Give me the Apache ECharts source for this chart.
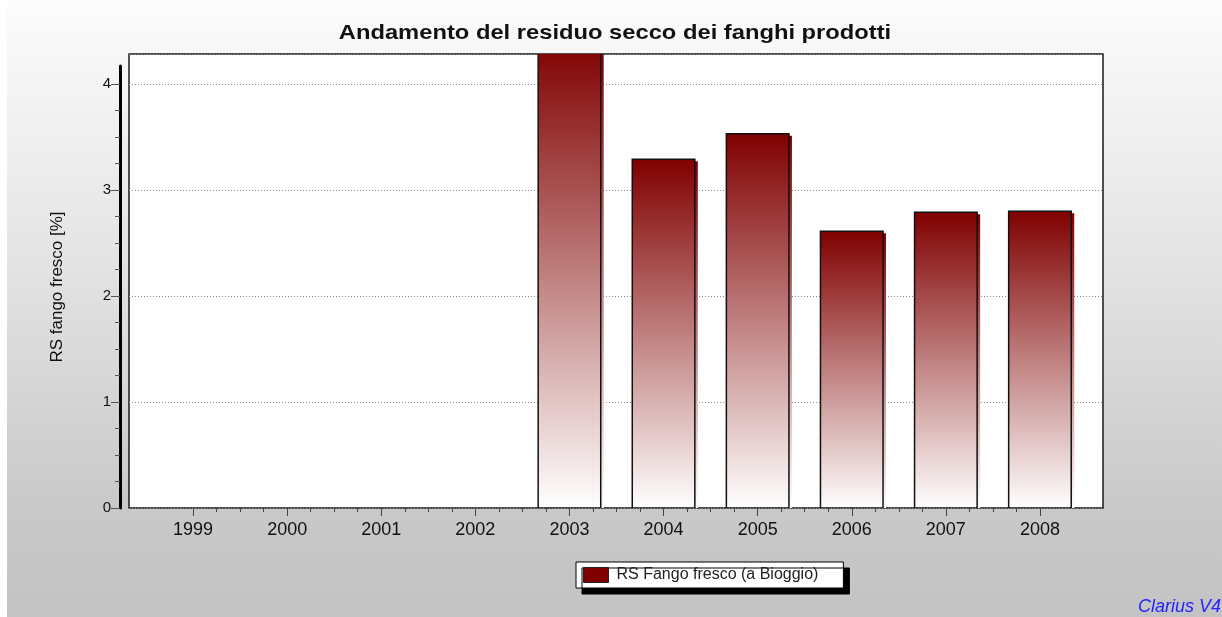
<!DOCTYPE html>
<html>
<head>
<meta charset="utf-8">
<title>Andamento del residuo secco dei fanghi prodotti</title>
<script src="https://cdn.jsdelivr.net/npm/echarts@6/dist/echarts.min.js"></script>
<style>
  html, body { margin: 0; padding: 0; background: #ffffff; }
  #chart { width: 1222px; height: 617px; }
</style>
</head>
<body>
<div id="chart"></div>
<script>
// Anni e residuo secco del fango fresco [%]
const years = ['1999', '2000', '2001', '2002', '2003', '2004', '2005', '2006', '2007', '2008'];
const rsFangoFresco = [null, null, null, null, 4.4, 3.29, 3.53, 2.61, 2.79, 2.80];
const seriesName = 'RS Fango fresco (a Bioggio)';
const chartTitle = 'Andamento del residuo secco dei fanghi prodotti';
const yAxisTitle = 'RS fango fresco [%]';
const yTickValues = [0, 1, 2, 3, 4];
const footerText = 'Clarius V4';

const FONT = '"Liberation Sans", Arial, Helvetica, sans-serif';

// quarter ticks between major ticks
function quarterTicks(majors) {
  const out = [];
  for (let i = 0; i < majors.length - 1; i++) {
    const a = majors[i], b = majors[i + 1];
    for (let k = 1; k < 4; k++) out.push(a + (b - a) * k / 4);
  }
  return out;
}
const yMinorValues = quarterTicks(yTickValues);
const xMajorValues = years.map((_, i) => i);
const xMinorValues = quarterTicks(xMajorValues);

// value range shown inside the plot frame and along the drawn axis line
const Y_MAX_FRAME = 4.283;
const Y_MAX_AXIS = 4.17;

function barGradient() {
  return new echarts.graphic.LinearGradient(0, 0, 0, 1, [
    { offset: 0, color: '#800000' },
    { offset: 1, color: '#ffffff' }
  ]);
}

function renderBar(params, api) {
  const v = api.value(1);
  if (v == null || isNaN(v)) return;
  const idx = api.value(0);
  const top = api.coord([idx, v]);
  const base = api.coord([idx, 0]);
  const w = api.size([1, 0])[0] * 0.665;
  const shape = { x: top[0] - w / 2, y: top[1], width: w, height: base[1] - top[1] };
  return {
    type: 'group',
    children: [
      {
        type: 'rect',
        shape: { x: shape.x + 3, y: shape.y + 2, width: shape.width, height: shape.height },
        style: { fill: barGradient() }
      },
      {
        type: 'rect',
        shape: shape,
        style: { fill: barGradient(), stroke: '#111111', lineWidth: 1.5 }
      }
    ]
  };
}

const chart = echarts.init(document.getElementById('chart'), null, { renderer: 'canvas' });

const hiddenValueAxis = (gridIndex) => ({
  type: 'value', gridIndex: gridIndex, min: 0, max: 1, show: false
});

chart.setOption({
  animation: false,
  textStyle: { fontFamily: FONT },
  graphic: [
    {
      type: 'rect', z: -10, silent: true,
      shape: { x: 7, y: 0, width: 1215, height: 617 },
      style: {
        fill: new echarts.graphic.LinearGradient(0, 0, 0, 1, [
          { offset: 0, color: '#fcfcfc' },
          { offset: 0.4, color: '#e5e5e5' },
          { offset: 0.82, color: '#c9c9c9' },
          { offset: 1, color: '#c3c3c3' }
        ])
      }
    },
    {
      type: 'text', z: 10, x: 615, y: 33, scaleX: 1.13,
      style: {
        text: chartTitle, fill: '#111111',
        font: 'bold 21px ' + FONT, align: 'center', verticalAlign: 'middle'
      }
    },
    {
      type: 'text', z: 10, x: 1138, y: 607,
      style: {
        text: footerText, fill: '#2222ff',
        font: 'italic 18px ' + FONT, align: 'left', verticalAlign: 'middle'
      }
    }
  ],
  grid: [
    // plot frame with dotted grid lines
    { left: 129, right: 119, top: 54, bottom: 109, show: true, backgroundColor: '#ffffff',
      borderColor: '#1a1a1a', borderWidth: 1.5, containLabel: false, outerBoundsMode: 'none' },
    // detached value axis on the left
    { left: 129, right: 119, top: 66, bottom: 109, containLabel: false, outerBoundsMode: 'none' },
    // bars
    { left: 146, right: 135, top: 54, bottom: 109, containLabel: false, outerBoundsMode: 'none' }
  ],
  xAxis: [
    hiddenValueAxis(0),
    hiddenValueAxis(1),
    {
      type: 'category', gridIndex: 2, data: years, position: 'bottom',
      axisLine: { show: false, onZero: false }, axisTick: { show: false }, splitLine: { show: false },
      axisLabel: { fontSize: 18, color: '#111111', margin: 13, fontFamily: FONT }
    },
    {
      type: 'value', gridIndex: 2, min: -0.5, max: 9.5, position: 'bottom',
      axisLine: { show: false, onZero: false }, splitLine: { show: false }, axisLabel: { show: false },
      axisTick: { show: true, length: 8, customValues: xMajorValues,
        lineStyle: { color: '#444444', width: 1 } }
    },
    {
      type: 'value', gridIndex: 2, min: -0.5, max: 9.5, position: 'bottom',
      axisLine: { show: false, onZero: false }, splitLine: { show: false }, axisLabel: { show: false },
      axisTick: { show: true, length: 4, customValues: xMinorValues,
        lineStyle: { color: '#444444', width: 1 } }
    }
  ],
  yAxis: [
    {
      type: 'value', gridIndex: 0, min: 0, max: Y_MAX_FRAME, interval: 1,
      axisLine: { show: false, onZero: false }, axisTick: { show: false }, axisLabel: { show: false },
      splitLine: { show: true, lineStyle: { color: '#8a8a8a', width: 1, type: [1, 2] } }
    },
    {
      type: 'value', gridIndex: 1, min: 0, max: Y_MAX_AXIS, position: 'left', offset: 9,
      name: yAxisTitle, nameLocation: 'middle', nameGap: 54, nameRotate: 90,
      nameTextStyle: { fontSize: 17, color: '#111111', fontFamily: FONT },
      axisLine: { show: true, onZero: false, lineStyle: { color: '#000000', width: 3 } },
      axisTick: { show: true, length: 9, customValues: yTickValues,
        lineStyle: { color: '#555555', width: 1 } },
      axisLabel: { show: true, customValues: yTickValues, margin: 9,
        fontSize: 15, color: '#111111', fontFamily: FONT },
      splitLine: { show: false }
    },
    {
      type: 'value', gridIndex: 1, min: 0, max: Y_MAX_AXIS, position: 'left', offset: 9,
      axisLine: { show: false, onZero: false }, axisLabel: { show: false }, splitLine: { show: false },
      axisTick: { show: true, length: 5, customValues: yMinorValues,
        lineStyle: { color: '#555555', width: 1 } }
    },
    {
      type: 'value', gridIndex: 2, min: 0, max: Y_MAX_FRAME, show: false
    }
  ],
  legend: {
    left: 576, top: 562, orient: 'horizontal',
    padding: [5, 25, 5, 7],
    itemWidth: 25, itemHeight: 15, itemGap: 8,
    backgroundColor: '#ffffff', borderColor: '#000000', borderWidth: 1,
    shadowColor: '#000000', shadowBlur: 0, shadowOffsetX: 6, shadowOffsetY: 6,
    textStyle: { fontSize: 16, color: '#222222', fontFamily: FONT, padding: [0, 0, 0, 3] },
    data: [{
      name: seriesName, icon: 'rect',
      itemStyle: { color: '#800000', borderColor: '#222222', borderWidth: 1 }
    }]
  },
  series: [
    {
      name: seriesName,
      type: 'custom',
      xAxisIndex: 2,
      yAxisIndex: 3,
      clip: true,
      itemStyle: { color: '#800000' },
      encode: { x: 0, y: 1 },
      renderItem: renderBar,
      data: years.map((y, i) => [y, rsFangoFresco[i]])
    }
  ]
});
</script>
</body>
</html>
